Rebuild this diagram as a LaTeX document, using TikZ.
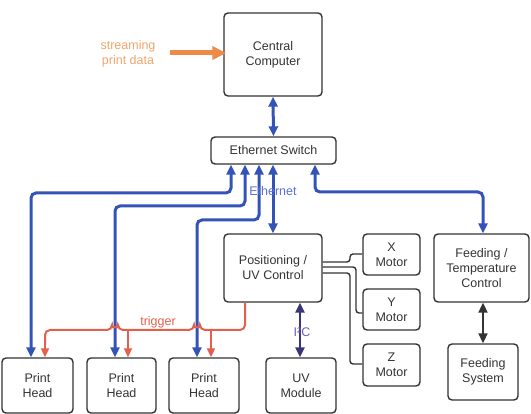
\documentclass[tikz,border=0pt]{standalone}
\usepackage{fontspec}
\setmainfont{Liberation Sans}
\usetikzlibrary{arrows.meta,calc}
\definecolor{boxline}{HTML}{333333}
\definecolor{ethblue}{HTML}{3453B8}
\definecolor{ethtext}{HTML}{5A6FD8}
\definecolor{trig}{HTML}{E4604E}
\definecolor{stream}{HTML}{EE8A48}
\definecolor{streamtext}{HTML}{F2A46B}
\definecolor{i2c}{HTML}{3A3577}
\definecolor{i2ctext}{HTML}{6B5FB0}
\tikzset{
  blk/.style={draw=boxline, line width=1.4pt, rounded corners=4pt, align=center,
    text=boxline, font=\fontsize{12.5}{15}\selectfont, inner sep=0pt},
  lbl/.style={font=\fontsize{12.5}{15}\selectfont},
  eth/.style={draw=ethblue, line width=3pt, rounded corners=5pt,
    {Triangle[length=10pt,width=9pt]}-{Triangle[length=10pt,width=9pt]}},
  trg/.style={draw=trig, line width=2pt, rounded corners=5pt},
  trgtip/.style={draw=trig, line width=2pt, -{Triangle[length=9pt,width=8pt]}},
  mot/.style={draw=boxline, line width=1.4pt, rounded corners=3pt},
}
\begin{document}
\begin{tikzpicture}[x=1pt,y=-1pt]
\useasboundingbox (0,0) rectangle (531,414);
% boxes
\node[blk, minimum width=98pt, minimum height=83pt] (cc) at (273,54.5) {Central\\Computer};
\node[blk, minimum width=125pt, minimum height=27pt] (sw) at (273.5,150.5) {Ethernet Switch};
\node[blk, minimum width=98pt, minimum height=68pt] (pos) at (273,268) {Positioning /\\UV Control};
\node[blk, minimum width=57pt, minimum height=41pt] (xm) at (391.5,254.5) {X\\Motor};
\node[blk, minimum width=57pt, minimum height=41pt] (ym) at (391.5,309.5) {Y\\Motor};
\node[blk, minimum width=57pt, minimum height=42pt] (zm) at (391.5,365) {Z\\Motor};
\node[blk, minimum width=95pt, minimum height=68pt] (ft) at (481.5,268) {Feeding /\\Temperature\\Control};
\node[blk, minimum width=70pt, minimum height=56pt] (fs) at (483,372) {Feeding\\System};
\node[blk, minimum width=71pt, minimum height=55pt] (ph1) at (37.5,385.5) {Print\\Head};
\node[blk, minimum width=69pt, minimum height=55pt] (ph2) at (121.5,385.5) {Print\\Head};
\node[blk, minimum width=70pt, minimum height=55pt] (ph3) at (204,385.5) {Print\\Head};
\node[blk, minimum width=70pt, minimum height=55pt] (uv) at (301,385.5) {UV\\Module};
% streaming
\node[lbl, text=streamtext, align=center] (st) at (128,54) {streaming\\print data};
\draw[stream, line width=5pt, -{Triangle[length=14pt,width=13pt]}] (170,53) -- ([xshift=3pt]cc.west |- 0,53);
% ethernet
\draw[eth] (cc.south) -- (sw.north);
\draw[eth] (sw.south -| 231,0) -- (231,193) -- (31,193) -- (ph1.north -| 31,0);
\draw[eth] (sw.south -| 245,0) -- (245,206) -- (115,206) -- (ph2.north -| 115,0);
\draw[eth] (sw.south -| 259,0) -- (259,220) -- (197,220) -- (ph3.north -| 197,0);
\draw[eth] (sw.south -| 273,0) -- (pos.north -| 273,0);
\draw[eth] (sw.south -| 315,0) -- (315,192) -- (483,192) -- (ft.north -| 483,0);
\node[lbl, text=ethtext] (ethl) at (273,191) {Ethernet};
% trigger
\draw[trg] (pos.south -| 245,0) -- (245,330) -- (200,330)
  arc[start angle=0, end angle=-180, radius=3] -- (118,330)
  arc[start angle=0, end angle=-180, radius=3] -- (45,330) -- (45,345);
\draw[trgtip] (45,343) -- (ph1.north -| 45,0);
\draw[trgtip] (128,330) -- (ph2.north -| 128,0);
\draw[trgtip] (211,330) -- (ph3.north -| 211,0);
\node[lbl, text=trig] (trl) at (158,322) {trigger};
% I2C
\draw[i2c, line width=2.5pt, {Triangle[length=10pt,width=9pt]}-{Triangle[length=10pt,width=9pt]}] (pos.south -| 300,0) -- (uv.north -| 300,0);
\node[lbl, text=i2ctext, inner sep=1pt] (i2l) at (302,332) {I²C};
% feeding
\draw[boxline, line width=2pt, {Triangle[length=10pt,width=9pt]}-{Triangle[length=10pt,width=9pt]}] (ft.south -| 483,0) -- (fs.north);
% motors
\draw[mot] (pos.east |- 0,262) -- (350,262) -- (350,254) -- (xm.west |- 0,254);
\draw[mot] (pos.east |- 0,267) -- (356,267) -- (356,313) -- (ym.west |- 0,313);
\draw[mot] (pos.east |- 0,273) -- (350,273) -- (350,364) -- (zm.west |- 0,364);
\end{tikzpicture}
\end{document}
